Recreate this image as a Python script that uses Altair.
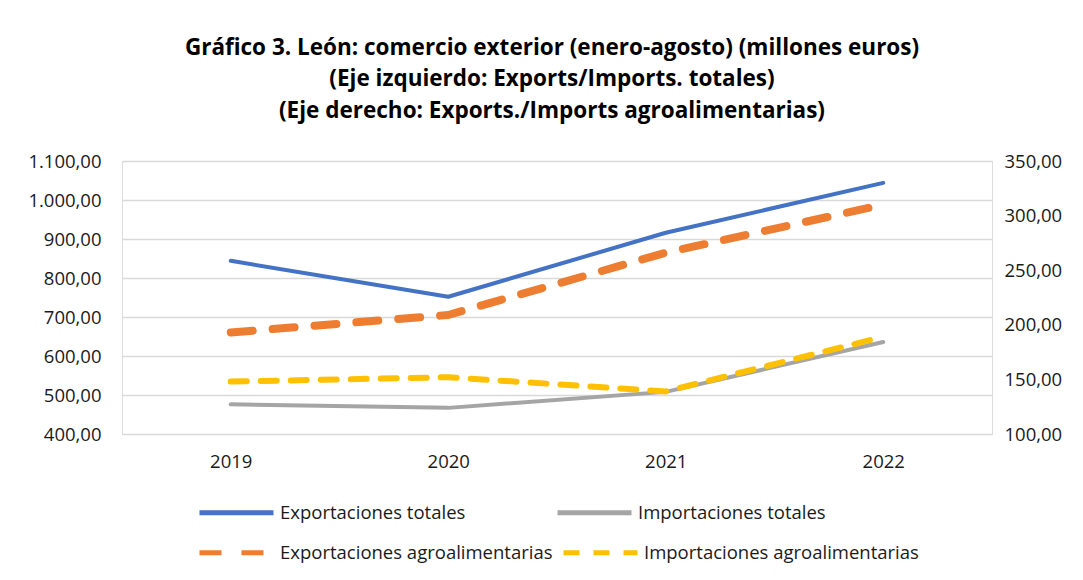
import altair as alt
import pandas as pd

years = ["2019", "2020", "2021", "2022"]
exp_totales = [844, 752, 916, 1044]
imp_totales = [476, 467, 508, 636]
exp_agro = [193, 209, 266, 310]
imp_agro = [148, 152, 139, 189]

tot_names = ["Exportaciones totales", "Importaciones totales"]
agro_names = ["Exportaciones agroalimentarias", "Importaciones agroalimentarias"]
tot_colors = ["#4472C4", "#A5A5A5"]
agro_colors = ["#ED7D31", "#FFC000"]
agro_dashes = [[22, 20], [16, 14]]

title_lines = [
    "Gráfico 3. León: comercio exterior (enero-agosto) (millones euros)",
    "(Eje izquierdo: Exports/Imports. totales)",
    "(Eje derecho: Exports./Imports agroalimentarias)",
]

def frame(values, name):
    return pd.DataFrame({"year": years, "value": values, "series": name})

df_tot = pd.concat([frame(exp_totales, tot_names[0]), frame(imp_totales, tot_names[1])])
df_exp_agro = frame(exp_agro, agro_names[0])
df_imp_agro = frame(imp_agro, agro_names[1])

FONT = "Open Sans"
TXT = "#1a1a1a"
FS = 18.5

def legend(y, colpad):
    return alt.Legend(title=None, orient="none", legendX=75, legendY=y,
                      direction="horizontal", symbolType="stroke",
                      symbolSize=5476, symbolStrokeWidth=5, labelFontSize=FS,
                      labelFont=FONT, labelColor=TXT, columnPadding=colpad,
                      labelOffset=4, labelLimit=400)

x_enc = alt.X("year:O", title=None,
              axis=alt.Axis(labelAngle=0, ticks=False, domain=False, grid=False,
                            labelFontSize=FS, labelFont=FONT, labelColor=TXT, labelPadding=18))

label_expr = ("datum.value >= 1000 ? floor(datum.value/1000) + '.' + format(datum.value % 1000, '03d') + ',00'"
              " : datum.value + ',00'")

left = alt.Chart(df_tot).mark_line(strokeWidth=4, strokeCap="round", strokeJoin="round").encode(
    x=x_enc,
    y=alt.Y("value:Q", title=None,
            scale=alt.Scale(domain=[400, 1100], nice=False, zero=False),
            axis=alt.Axis(values=list(range(400, 1101, 100)), labelExpr=label_expr,
                          ticks=False, domain=False, grid=True, gridColor="#D9D9D9",
                          gridWidth=1.3, labelFontSize=FS, labelFont=FONT, labelColor=TXT,
                          labelPadding=21, orient="left")),
    color=alt.Color("series:N", scale=alt.Scale(domain=tot_names, range=tot_colors),
                    legend=legend(312, 81)),
)

right_y = alt.Y("value:Q", title=None,
                scale=alt.Scale(domain=[100, 350], nice=False, zero=False),
                axis=alt.Axis(values=list(range(100, 351, 50)), labelExpr="datum.value + ',00'",
                              ticks=False, domain=False, grid=False, labelFontSize=FS,
                              labelFont=FONT, labelColor=TXT, labelPadding=12, orient="right"))

agro_color = alt.Color("series:N", scale=alt.Scale(domain=agro_names, range=agro_colors),
                       legend=legend(352, 0))
agro_dash = alt.StrokeDash("series:N", scale=alt.Scale(domain=agro_names, range=agro_dashes),
                           legend=legend(352, 0))

orange = alt.Chart(df_exp_agro).mark_line(strokeWidth=8, strokeCap="round", strokeJoin="round").encode(
    x=x_enc, y=right_y, color=agro_color, strokeDash=agro_dash)
yellow = alt.Chart(df_imp_agro).mark_line(strokeWidth=6, strokeCap="round", strokeJoin="round").encode(
    x=x_enc, y=right_y, color=agro_color, strokeDash=agro_dash)

right = alt.layer(orange, yellow)

chart = alt.layer(left, right).resolve_scale(
    y="independent", color="independent", strokeDash="independent"
).properties(
    width=870,
    height=273,
    autosize=alt.AutoSizeParams(type="none"),
    padding={"left": 114, "top": 153, "right": 75, "bottom": 140},
    title=alt.TitleParams(text=title_lines, fontSize=22.5, fontWeight="bold", font=FONT,
                          color="#000000", anchor="middle", lineHeight=31.5, offset=30,
                          frame="group", dx=-5),
).configure_view(stroke=None).configure(background="white")

chart.save("out.html", embed_options={"renderer": "svg", "actions": False})
